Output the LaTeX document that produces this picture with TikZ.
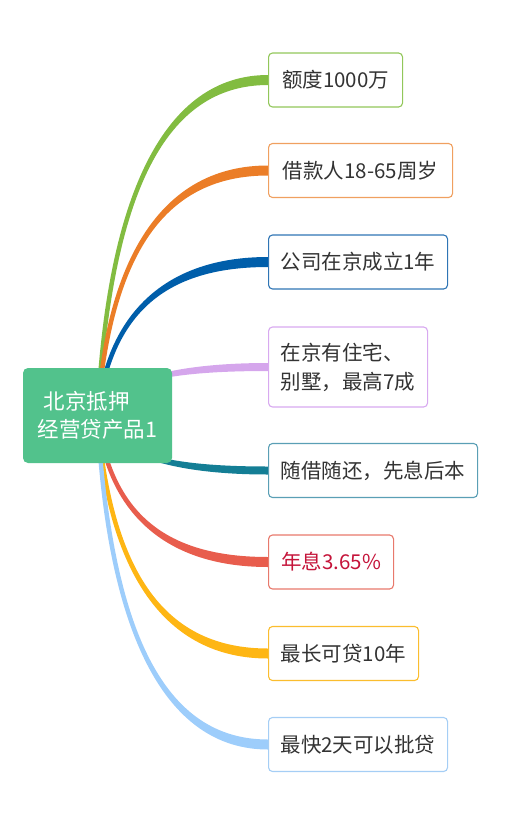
\documentclass[tikz,border=0pt]{standalone}
\usepackage{fontspec}
\newfontfamily\cjk{Noto Sans CJK SC}
\usetikzlibrary{calc}
\pgfdeclarelayer{bg}
\pgfsetlayers{bg,main}
\definecolor{txt}{HTML}{333333}
\definecolor{rootfill}{HTML}{52C28C}
\definecolor{cA}{HTML}{82BC41}\definecolor{bA}{HTML}{92C75A}
\definecolor{cB}{HTML}{EB7D27}\definecolor{bB}{HTML}{F0A060}
\definecolor{cC}{HTML}{005EAA}\definecolor{bC}{HTML}{2F75B5}
\definecolor{cD}{HTML}{D5A6EC}\definecolor{bD}{HTML}{D8A9F0}
\definecolor{cE}{HTML}{147E95}\definecolor{bE}{HTML}{5A9FB5}
\definecolor{cF}{HTML}{E85D4D}\definecolor{bF}{HTML}{E8796C}
\definecolor{cG}{HTML}{FEB614}\definecolor{bG}{HTML}{FBBD2E}
\definecolor{cH}{HTML}{9DCDFB}\definecolor{bH}{HTML}{A5CEF5}
\definecolor{redtxt}{HTML}{C5143A}
\tikzset{
  leaf/.style={draw, rounded corners=4pt, line width=1.1pt, fill=white, anchor=west,
    minimum height=54pt, inner xsep=0pt, inner ysep=0pt, text=txt,
    font=\cjk\fontsize{20.5}{29}\selectfont},
  rootbox/.style={fill=rootfill, rounded corners=5pt, minimum width=149pt, minimum height=95pt,
    inner sep=0pt, text=white, align=left, font=\cjk\fontsize{21.5}{28}\selectfont}
}
\newcommand\branch[3]{%
  \coordinate (p0) at (root.center);
  \coordinate (p2) at (#1.west);
  \coordinate (q) at ($(p0 |- p2)+(17,0)$);
  \coordinate (k1) at ($(p0)!2/3!(q)$);
  \coordinate (k2) at ($(p2)!2/3!(q)$);
  \fill[#2] ($(p0)+(-2,0)$) .. controls ($(k1)+(-3,0)$) and ($(k2)+(0,#3)$) .. ($(p2)+(0,#3)$)
    -- ($(p2)-(0,#3)$) .. controls ($(k2)-(0,#3)$) and ($(k1)+(3,0)$) .. ($(p0)+(2,0)$) -- cycle;
}
\begin{document}
\begin{tikzpicture}[x=1pt,y=-1pt]
\useasboundingbox (0,0) rectangle (515,825);
\node[rootbox] (root) at (97.5,415.5) {\hspace*{6pt}北京抵押\\经营贷产品1};
\node[leaf, draw=bA, minimum width=134pt] (l1) at (268,80) {额度1000万};
\node[leaf, draw=bB, minimum width=184pt] (l2) at (268,170.5) {借款人18-65周岁};
\node[leaf, draw=bC, minimum width=179pt] (l3) at (268,262) {公司在京成立1年};
\node[leaf, draw=bD, minimum width=159pt, minimum height=80pt, align=left] (l4) at (268,367) {在京有住宅、\\别墅，最高7成};
\node[leaf, draw=bE, minimum width=209pt] (l5) at (268,470.5) {随借随还，先息后本};
\node[leaf, draw=bF, minimum width=125pt, text=redtxt] (l6) at (268,562) {年息3.65\%};
\node[leaf, draw=bG, minimum width=150pt] (l7) at (268,653.5) {最长可贷10年};
\node[leaf, draw=bH, minimum width=179pt] (l8) at (268,744.5) {最快2天可以批贷};
\begin{pgfonlayer}{bg}
\branch{l1}{cA}{-5}
\branch{l2}{cB}{-5}
\branch{l3}{cC}{-5}
\branch{l4}{cD}{-4}
\branch{l5}{cE}{4}
\branch{l6}{cF}{5}
\branch{l7}{cG}{5}
\branch{l8}{cH}{5}
\end{pgfonlayer}
\end{tikzpicture}
\end{document}
